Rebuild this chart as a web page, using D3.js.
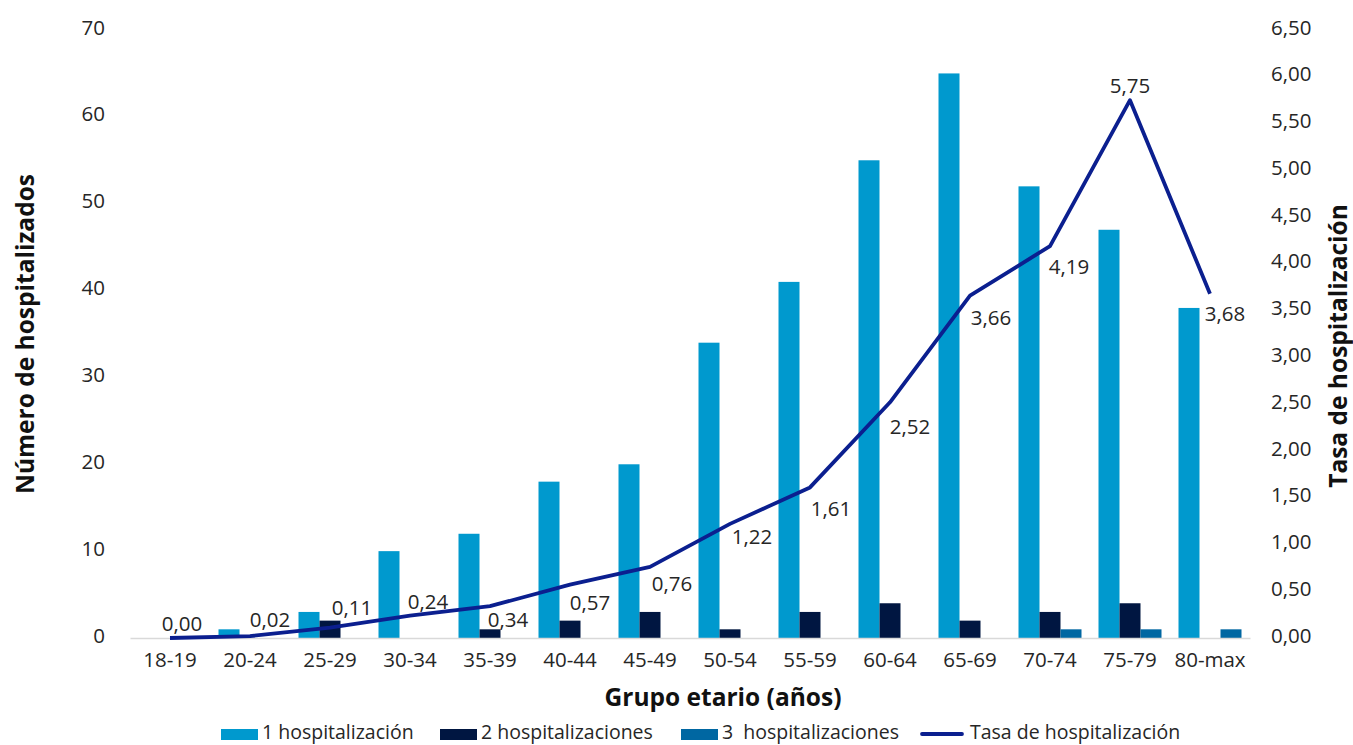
<!DOCTYPE html>
<html>
<head>
<meta charset="utf-8">
<script src="https://cdn.jsdelivr.net/npm/d3@7/dist/d3.min.js"></script>
<style>
  html, body { margin: 0; padding: 0; background: #ffffff; }
  svg { display: block; font-family: "Open Sans", "Noto Sans", sans-serif; }
</style>
</head>
<body>
<svg id="chart" width="1353" height="745"></svg>
<script>
// ---- data ----
const categories = ["18-19","20-24","25-29","30-34","35-39","40-44","45-49","50-54","55-59","60-64","65-69","70-74","75-79","80-max"];
const hosp1 = [0, 1, 3, 10, 12, 18, 20, 34, 41, 55, 65, 52, 47, 38];
const hosp2 = [0, 0, 2, 0, 1, 2, 3, 1, 3, 4, 2, 3, 4, 0];
const hosp3 = [0, 0, 0, 0, 0, 0, 0, 0, 0, 0, 0, 1, 1, 1];
const tasa  = [0.00, 0.02, 0.11, 0.24, 0.34, 0.57, 0.76, 1.22, 1.61, 2.52, 3.66, 4.19, 5.75, 3.68];
const leftTicks  = [0, 10, 20, 30, 40, 50, 60, 70];
const rightTicks = [0, 0.5, 1, 1.5, 2, 2.5, 3, 3.5, 4, 4.5, 5, 5.5, 6, 6.5];
const seriesNames = ["1 hospitalización", "2 hospitalizaciones", "3  hospitalizaciones"];
const lineName = "Tasa de hospitalización";

// ---- styles / layout ----
const colors = ["#0099CE", "#001641", "#0067A2"];
const lineColor = "#0B1F8F";
const textColor = "#262626";
const titleColor = "#111111";
const plot = { left: 130, right: 1250, top: 30, bottom: 638 };
const fontSize = 20.5;
const titleSize = 24.5;
const legendSize = 19.5;

const svg = d3.select("#chart");

const x = d3.scaleBand().domain(categories).range([plot.left, plot.right]).padding(0);
const seriesKeys = [0, 1, 2];
const barW = 21;
const xs = d3.scaleBand().domain(seriesKeys).range([-barW * 1.5, barW * 1.5]).padding(0);
const yL = d3.scaleLinear().domain([0, 70]).range([plot.bottom, plot.top]);
const yR = d3.scaleLinear().domain([0, 6.5]).range([plot.bottom, plot.top]);

const fmt = v => d3.format(".2f")(v).replace(".", ",");

// bars
const seriesData = [hosp1, hosp2, hosp3];
seriesData.forEach((vals, s) => {
  svg.append("g").selectAll("rect").data(vals).join("rect")
    .attr("x", (d, i) => x(categories[i]) + x.bandwidth() / 2 + xs(s))
    .attr("width", xs.bandwidth())
    .attr("y", d => yL(d))
    .attr("height", d => yL(0) - yL(d))
    .attr("fill", colors[s]);
});

// x axis line
const xAxis = d3.axisBottom(x).tickSize(0).tickPadding(14);
const gx = svg.append("g").attr("transform", `translate(0,${plot.bottom})`).call(xAxis);
gx.select(".domain").attr("stroke", "#d9d9d9").attr("stroke-width", 1.5);
gx.selectAll("text").attr("font-size", fontSize).attr("fill", textColor).attr("font-family", "'Open Sans', sans-serif");

// left axis
const gl = svg.append("g").attr("transform", `translate(${plot.left},0)`)
  .call(d3.axisLeft(yL).tickValues(leftTicks).tickSize(0).tickPadding(25));
gl.select(".domain").remove();
gl.selectAll("text").attr("font-size", fontSize).attr("fill", textColor).attr("font-family", "'Open Sans', sans-serif")
  .attr("dy", "0.2em");

// right axis
const gr = svg.append("g").attr("transform", `translate(${plot.right},0)`)
  .call(d3.axisRight(yR).tickValues(rightTicks).tickSize(0).tickPadding(21).tickFormat(fmt));
gr.select(".domain").remove();
gr.selectAll("text").attr("font-size", fontSize).attr("fill", textColor).attr("font-family", "'Open Sans', sans-serif")
  .attr("dy", "0.2em");

// line
const line = d3.line()
  .x((d, i) => x(categories[i]) + x.bandwidth() / 2)
  .y(d => yR(d));
svg.append("path").datum(tasa)
  .attr("d", line)
  .attr("fill", "none")
  .attr("stroke", lineColor)
  .attr("stroke-width", 3.8)
  .attr("stroke-linejoin", "round");

// data labels (offsets relative to each point)
const labelOffsets = [[12,-15],[20,-17],[22,-21],[18,-15],[18,13],[20,17],[22,16],[22,12],[21,21],[20,24],[21,21],[19,20],[0,-15],[15,19]];
svg.append("g").selectAll("text").data(tasa).join("text")
  .attr("x", (d, i) => x(categories[i]) + x.bandwidth() / 2 + labelOffsets[i][0])
  .attr("y", (d, i) => yR(d) + labelOffsets[i][1])
  .attr("text-anchor", "middle")
  .attr("dominant-baseline", "central")
  .attr("font-size", fontSize)
  .attr("fill", textColor)
  .text(d => fmt(d));

// axis titles
svg.append("text")
  .attr("transform", `translate(34,334) rotate(-90)`)
  .attr("text-anchor", "middle")
  .attr("font-size", titleSize).attr("font-weight", "bold").attr("fill", titleColor)
  .text("Número de hospitalizados");

svg.append("text")
  .attr("transform", `translate(1347,346) rotate(-90)`)
  .attr("text-anchor", "middle")
  .attr("font-size", titleSize).attr("font-weight", "bold").attr("fill", titleColor)
  .text("Tasa de hospitalización");

svg.append("text")
  .attr("x", 723).attr("y", 706)
  .attr("text-anchor", "middle")
  .attr("font-size", titleSize).attr("font-weight", "bold").attr("fill", titleColor)
  .text("Grupo etario (años)");

// legend
const legendItems = [
  { name: seriesNames[0], color: colors[0], type: "rect", x: 221 },
  { name: seriesNames[1], color: colors[1], type: "rect", x: 440 },
  { name: seriesNames[2], color: colors[2], type: "rect", x: 681 },
  { name: lineName, color: lineColor, type: "line", x: 922 }
];
const lg = svg.append("g");
legendItems.forEach(it => {
  const g = lg.append("g").attr("transform", `translate(${it.x},0)`);
  if (it.type === "rect") {
    g.append("rect").attr("x", 0).attr("y", 729).attr("width", 37).attr("height", 11).attr("fill", it.color);
  } else {
    g.append("line").attr("x1", 0).attr("x2", 40).attr("y1", 734).attr("y2", 734)
      .attr("stroke", it.color).attr("stroke-width", 3.8).attr("stroke-linecap", "round");
  }
  g.append("text").attr("x", it.type === "rect" ? 41 : 48).attr("y", 739)
    .attr("font-size", legendSize).attr("fill", textColor)
    .style("white-space", "pre")
    .text(it.name);
});
</script>
</body>
</html>
